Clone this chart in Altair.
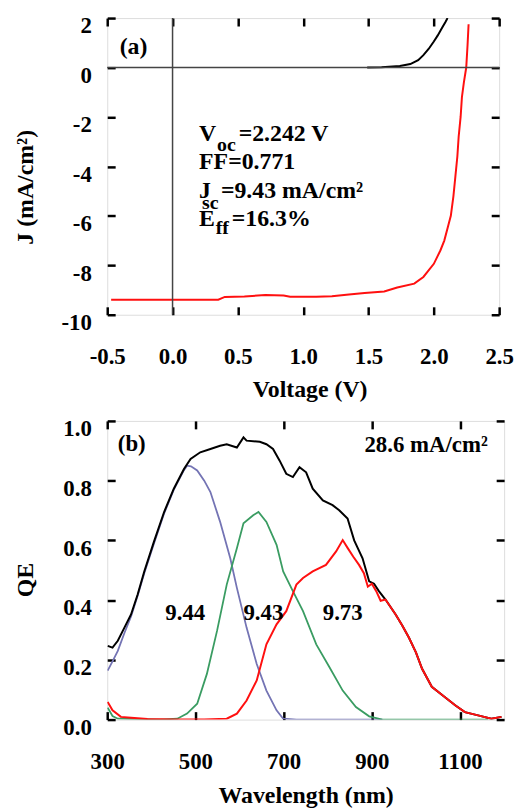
import altair as alt
import pandas as pd

FONT = "Liberation Serif"

# ---------------- Panel (a): J-V ----------------
v_light = [-0.47, 0.0, 0.35, 0.40, 0.55, 0.71, 0.85, 0.90, 1.10, 1.22, 1.35, 1.47, 1.62, 1.72,
           1.85, 1.92, 2.00, 2.05, 2.08, 2.11, 2.13, 2.15, 2.165, 2.18, 2.19, 2.205, 2.215,
           2.23, 2.248, 2.258, 2.266]
j_light = [-9.39, -9.39, -9.39, -9.28, -9.26, -9.20, -9.22, -9.27, -9.27, -9.25, -9.18, -9.12,
           -9.06, -8.90, -8.74, -8.47, -7.94, -7.40, -7.00, -6.40, -6.00, -5.20, -4.40, -3.60,
           -2.80, -2.00, -1.20, -0.60, 0.00, 0.90, 1.75]
v_dark = [1.49, 1.60, 1.74, 1.82, 1.88, 1.92, 1.96, 2.00, 2.03, 2.06, 2.09, 2.105]
j_dark = [0.00, 0.01, 0.06, 0.14, 0.30, 0.50, 0.75, 1.05, 1.30, 1.58, 1.85, 2.00]
v_ticks = [-0.5, 0.0, 0.5, 1.0, 1.5, 2.0, 2.5]
j_ticks = [-10, -8, -6, -4, -2, 0, 2]

ann_a_main = ["(a)", "V", "=2.242 V", "FF=0.771", "J", "=9.43 mA/cm²", "E", "=16.3%"]
ann_a_main_x = [-0.405, 0.203, 0.506, 0.203, 0.203, 0.37, 0.203, 0.453]
ann_a_main_y = [0.81, -2.69, -2.69, -3.84, -4.99, -4.99, -6.14, -6.14]
ann_a_sub = ["oc", "sc", "ff"]
ann_a_sub_x = [0.34, 0.225, 0.33]
ann_a_sub_y = [-3.12, -5.50, -6.49]

# ---------------- Panel (b): QE ----------------
wl_total = [301, 312, 324, 339, 354, 369, 384, 406, 429, 451, 474, 489, 511, 534, 556, 571, 594,
            609, 616, 646, 661, 676, 691, 706, 721, 736, 751, 766, 789, 811, 826, 845, 860, 879,
            894, 905, 916, 931, 954, 969, 984, 1000, 1014, 1036, 1066, 1089, 1111, 1141, 1171, 1194]
qe_total = [0.247, 0.241, 0.264, 0.308, 0.352, 0.419, 0.496, 0.596, 0.695, 0.773, 0.839, 0.873,
            0.895, 0.906, 0.917, 0.922, 0.911, 0.945, 0.934, 0.930, 0.922, 0.906, 0.867, 0.823,
            0.812, 0.845, 0.828, 0.773, 0.734, 0.718, 0.701, 0.673, 0.600, 0.540, 0.463, 0.455,
            0.430, 0.402, 0.352, 0.315, 0.275, 0.225, 0.170, 0.110, 0.075, 0.048, 0.025, 0.014,
            0.003, 0.009]
wl_blue = [301, 312, 324, 339, 354, 369, 384, 406, 429, 451, 474, 481, 490, 504, 520, 534, 556,
           579, 594, 616, 639, 661, 684, 699, 729, 760, 924]
qe_blue = [0.164, 0.195, 0.230, 0.290, 0.345, 0.415, 0.490, 0.590, 0.690, 0.770, 0.835, 0.850,
           0.848, 0.834, 0.800, 0.762, 0.662, 0.540, 0.441, 0.308, 0.186, 0.097, 0.031, 0.003,
           0.0, 0.0, 0.0]
wl_green = [301, 312, 324, 360, 420, 459, 481, 504, 526, 549, 571, 594, 609, 631, 643, 661, 684,
            699, 721, 744, 774, 804, 834, 864, 894, 924, 1000, 1100, 1164]
qe_green = [0.040, 0.012, 0.003, 0.002, 0.0, 0.003, 0.020, 0.053, 0.153, 0.297, 0.452, 0.574,
            0.657, 0.684, 0.695, 0.662, 0.585, 0.496, 0.430, 0.363, 0.252, 0.175, 0.097, 0.042,
            0.011, 0.0, 0.0, 0.0, 0.0]
wl_red = [301, 312, 331, 354, 391, 450, 520, 571, 594, 616, 639, 661, 684, 706, 729, 744, 766,
          796, 819, 834, 845, 858, 871, 882, 891, 900, 910, 920, 931, 954, 969, 984, 1000, 1014,
          1036, 1066, 1089, 1111, 1141, 1171, 1194]
qe_red = [0.059, 0.031, 0.009, 0.006, 0.002, 0.0, 0.0, 0.003, 0.020, 0.064, 0.131, 0.252, 0.319,
          0.363, 0.452, 0.474, 0.496, 0.518, 0.563, 0.601, 0.575, 0.545, 0.518, 0.490, 0.445,
          0.455, 0.430, 0.398, 0.402, 0.352, 0.315, 0.275, 0.225, 0.170, 0.110, 0.075, 0.048,
          0.025, 0.014, 0.003, 0.009]
wl_ticks = [300, 500, 700, 900, 1100]
qe_ticks = [0.0, 0.2, 0.4, 0.6, 0.8, 1.0]

ann_b = ["(b)", "28.6 mA/cm²", "9.44", "9.43", "9.73"]
ann_b_x = [324, 1163, 477, 654, 834]
ann_b_y = [0.924, 0.92, 0.357, 0.357, 0.357]
ann_b_align = ["left", "right", "center", "center", "center"]

# ---------------- helpers ----------------
def hy(fmt):
    return f"datum.value < 0 ? '-' + format(-datum.value, '{fmt}') : format(datum.value, '{fmt}')"


def main_axis(orient, values, fmt, title, lpad, tpad, **extra):
    kw = dict(orient=orient, values=values, labelExpr=hy(fmt), title=title, offset=-8,
              tickSize=8, tickWidth=2.5, tickColor="black", domain=False, grid=False,
              labelFont=FONT, labelFontSize=23, labelFontWeight="bold", labelColor="black",
              labelPadding=lpad, labelFlush=False, labelOverlap=False,
              titleFont=FONT, titleFontSize=24, titleFontWeight="bold", titleColor="black",
              titlePadding=tpad)
    kw.update(extra)
    return alt.Axis(**kw)


def mirror_axis(orient, values):
    return alt.Axis(orient=orient, values=values, offset=-8, tickSize=8, tickWidth=2.5,
                    tickColor="black", domain=False, grid=False, labels=False, title=None)


YLAB = dict(minExtent=55, maxExtent=55, labelBaseline="top", labelOffset=-3)

# ---------------- Panel (a) chart ----------------
xs_a = alt.Scale(domain=[-0.5, 2.5], nice=False, zero=False)
ys_a = alt.Scale(domain=[-10, 2], nice=False, zero=False)

df_light = pd.DataFrame({"v": v_light, "j": j_light})
df_dark = pd.DataFrame({"v": v_dark, "j": j_dark})
df_zero = pd.DataFrame({"z": [0.0]})
df_ann_main = pd.DataFrame({"x": ann_a_main_x, "y": ann_a_main_y, "t": ann_a_main})
df_ann_sub = pd.DataFrame({"x": ann_a_sub_x, "y": ann_a_sub_y, "t": ann_a_sub})

light = alt.Chart(df_light).mark_line(color="#ff1010", strokeWidth=2, clip=True).encode(
    x=alt.X("v:Q", scale=xs_a,
            axis=main_axis("bottom", v_ticks, ".1f", "Voltage (V)", 31, 9, titleX=204)),
    y=alt.Y("j:Q", scale=ys_a,
            axis=main_axis("left", j_ticks, "d", "J (mA/cm²)", 16, 23, titleY=170, **YLAB)),
)
dark = alt.Chart(df_dark).mark_line(color="black", strokeWidth=2, clip=True).encode(
    x=alt.X("v:Q", scale=xs_a, axis=mirror_axis("top", v_ticks)),
    y=alt.Y("j:Q", scale=ys_a, axis=mirror_axis("right", j_ticks)),
)
hzero = alt.Chart(df_zero).mark_rule(color="#444444", strokeWidth=1.5).encode(
    y=alt.Y("z:Q", scale=ys_a, axis=None))
vzero = alt.Chart(df_zero).mark_rule(color="#444444", strokeWidth=1.5).encode(
    x=alt.X("z:Q", scale=xs_a, axis=None))
txt_a = alt.Chart(df_ann_main).mark_text(
    font=FONT, fontSize=24, fontWeight="bold", align="left", baseline="middle", color="black"
).encode(x=alt.X("x:Q", scale=xs_a, axis=None), y=alt.Y("y:Q", scale=ys_a, axis=None), text="t:N")
sub_a = alt.Chart(df_ann_sub).mark_text(
    font=FONT, fontSize=20, fontWeight="bold", align="left", baseline="middle", color="black"
).encode(x=alt.X("x:Q", scale=xs_a, axis=None), y=alt.Y("y:Q", scale=ys_a, axis=None), text="t:N")

panel_a = alt.layer(light, dark, hzero, vzero, txt_a, sub_a).resolve_axis(
    x="independent", y="independent").properties(width=395, height=299)

# ---------------- Panel (b) chart ----------------
xs_b = alt.Scale(domain=[300, 1200], nice=False, zero=False)
ys_b = alt.Scale(domain=[0, 1], nice=False, zero=False)

df_total = pd.DataFrame({"w": wl_total, "q": qe_total})
df_blue = pd.DataFrame({"w": wl_blue, "q": qe_blue})
df_green = pd.DataFrame({"w": wl_green, "q": qe_green})
df_red = pd.DataFrame({"w": wl_red, "q": qe_red})
df_ann_b = pd.DataFrame({"x": ann_b_x, "y": ann_b_y, "t": ann_b, "a": ann_b_align})

blue = alt.Chart(df_blue).mark_line(color="#7474b4", strokeWidth=1.8, clip=True).encode(
    x=alt.X("w:Q", scale=xs_b,
            axis=main_axis("bottom", wl_ticks, "d", "Wavelength (nm)", 31, 11)),
    y=alt.Y("q:Q", scale=ys_b,
            axis=main_axis("left", qe_ticks, ".1f", "QE", 16, 23, titleY=160, **YLAB)),
)
green = alt.Chart(df_green).mark_line(color="#3a9c62", strokeWidth=1.8, clip=True).encode(
    x=alt.X("w:Q", scale=xs_b, axis=mirror_axis("top", wl_ticks)),
    y=alt.Y("q:Q", scale=ys_b, axis=mirror_axis("right", qe_ticks)),
)
total = alt.Chart(df_total).mark_line(color="black", strokeWidth=2, clip=True).encode(
    x=alt.X("w:Q", scale=xs_b, axis=None), y=alt.Y("q:Q", scale=ys_b, axis=None))
red = alt.Chart(df_red).mark_line(color="#ff1010", strokeWidth=2, clip=True).encode(
    x=alt.X("w:Q", scale=xs_b, axis=None), y=alt.Y("q:Q", scale=ys_b, axis=None))

txt_b_parts = []
for al in ["left", "right", "center"]:
    txt_b_parts.append(
        alt.Chart(df_ann_b).transform_filter(alt.datum.a == al).mark_text(
            font=FONT, fontSize=23, fontWeight="bold", align=al, baseline="middle", color="black"
        ).encode(x=alt.X("x:Q", scale=xs_b, axis=None), y=alt.Y("y:Q", scale=ys_b, axis=None),
                 text="t:N")
    )

panel_b = alt.layer(blue, green, total, red, *txt_b_parts).resolve_axis(
    x="independent", y="independent").properties(width=400, height=301)

chart = alt.vconcat(panel_a, panel_b, spacing=15).properties(
    padding={"left": 5, "top": 3, "right": 5, "bottom": 2}
).configure_view(stroke="black", strokeWidth=2.5).configure(background="white")

chart.save("out.html", embed_options={"renderer": "svg", "actions": False})
